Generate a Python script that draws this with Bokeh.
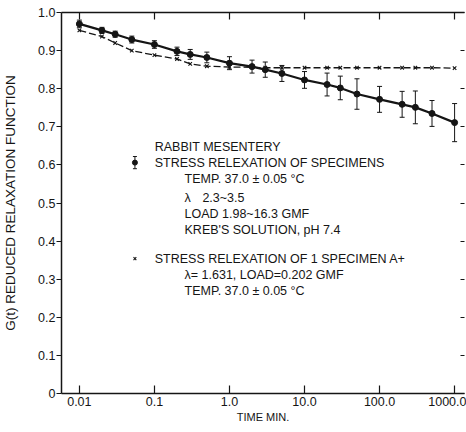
from bokeh.plotting import figure
from bokeh.models import (LogAxis, LinearAxis, FixedTicker, Range1d, Whisker,
                          TeeHead, ColumnDataSource, Label)
from bokeh.embed import file_html
from bokeh.resources import INLINE

# ---- data ----
times = [0.01, 0.02, 0.03, 0.05, 0.1, 0.2, 0.3, 0.5, 1, 2, 3, 5,
         10, 20, 30, 50, 100, 200, 300, 500, 1000]
g_specimens = [0.970, 0.953, 0.943, 0.929, 0.916, 0.898, 0.890, 0.882, 0.867,
               0.858, 0.850, 0.840, 0.823, 0.811, 0.802, 0.786, 0.772, 0.759,
               0.751, 0.735, 0.711]
g_err = [0.010, 0.008, 0.008, 0.009, 0.010, 0.011, 0.013, 0.014, 0.017,
         0.017, 0.020, 0.021, 0.022, 0.030, 0.031, 0.040, 0.034, 0.034,
         0.043, 0.034, 0.050]
g_single = [0.953, 0.937, 0.920, 0.900, 0.888, 0.878, 0.865, 0.859, 0.857,
            0.856, 0.855, 0.855, 0.855, 0.855, 0.855, 0.855, 0.855, 0.855,
            0.855, 0.855, 0.854]

x_ticks = [0.01, 0.1, 1, 10, 100, 1000]
x_tick_labels = ["0.01", "0.1", "1.0", "10.0", "100.0", "1000.0"]
y_ticks = [0, 0.1, 0.2, 0.3, 0.4, 0.5, 0.6, 0.7, 0.8, 0.9, 1.0]
y_tick_labels = ["0", "0.1", "0.2", "0.3", "0.4", "0.5", "0.6", "0.7", "0.8", "0.9", "1.0"]

INK = "#151515"
FONT = "Liberation Sans"

src = ColumnDataSource(dict(
    t=times, g=g_specimens, single=g_single,
    upper=[a + b for a, b in zip(g_specimens, g_err)],
    lower=[a - b for a, b in zip(g_specimens, g_err)],
))

p = figure(width=466, height=432, x_axis_type="log",
           x_range=Range1d(10 ** -2.238, 10 ** 3.132), y_range=Range1d(0, 1.0),
           output_backend="svg", toolbar_location=None,
           min_border_left=58, min_border_right=2, min_border_top=12,
           min_border_bottom=39)
p.outline_line_color = None
p.grid.visible = False
p.background_fill_color = "white"
p.border_fill_color = "white"

# bottom axis
xa = p.xaxis[0]
xa.ticker = FixedTicker(ticks=x_ticks, minor_ticks=[])
xa.major_label_overrides = dict(zip(x_ticks, x_tick_labels))
xa.major_tick_in = 8
xa.major_tick_out = 0
xa.major_label_standoff = 3
xa.axis_label = "TIME MIN."
xa.axis_label_standoff = 2
xa.axis_label_text_font_size = "11px"

# left axis
ya = p.yaxis[0]
ya.ticker = FixedTicker(ticks=y_ticks, minor_ticks=[])
ya.major_label_overrides = dict(zip(y_ticks, y_tick_labels))
ya.major_tick_in = 0
ya.major_tick_out = 5
ya.major_label_standoff = 1
ya.axis_label = "G(t) REDUCED RELAXATION FUNCTION"
ya.axis_label_standoff = 17
ya.axis_label_text_font_size = "13.5px"

for ax in (xa, ya):
    ax.axis_line_color = INK
    ax.axis_line_width = 1.5
    ax.major_tick_line_color = INK
    ax.major_tick_line_width = 1.2
    ax.minor_tick_line_color = None
    ax.major_label_text_font = FONT
    ax.major_label_text_font_size = "12.5px"
    ax.major_label_text_color = INK
    ax.axis_label_text_font = FONT
    ax.axis_label_text_font_style = "normal"
    ax.axis_label_text_color = INK

# top axis (ticks only)
top = LogAxis(ticker=FixedTicker(ticks=x_ticks, minor_ticks=[]),
              major_tick_in=7, major_tick_out=0, major_label_standoff=0,
              major_label_text_font_size="1px", major_label_text_color=None,
              axis_line_color=INK,
              axis_line_width=1.5, major_tick_line_color=INK,
              major_tick_line_width=1.2, minor_tick_line_color=None)
p.add_layout(top, "above")

# right axis (ticks only)
right = LinearAxis(ticker=FixedTicker(ticks=y_ticks, minor_ticks=[]),
                   major_tick_in=4, major_tick_out=0, major_label_standoff=0,
                   major_label_text_font_size="1px", major_label_text_color=None,
                   axis_line_color=None,
                   major_tick_line_color=INK, major_tick_line_width=1.2,
                   minor_tick_line_color=None)
p.add_layout(right, "right")

# single specimen: dashed line with x markers
p.line("t", "single", source=src, line_color=INK, line_width=1.3, line_dash="7 3")
p.scatter("t", "single", source=src, marker="x", size=5, line_color=INK, line_width=1.1)

# specimens: solid line, dots, error bars
p.line("t", "g", source=src, line_color=INK, line_width=2.2)
p.add_layout(Whisker(base="t", upper="upper", lower="lower", source=src,
                     line_color=INK, line_width=1,
                     upper_head=TeeHead(size=5, line_color=INK, line_width=1),
                     lower_head=TeeHead(size=5, line_color=INK, line_width=1)))
p.scatter("t", "g", source=src, marker="circle", size=6, fill_color=INK, line_color=INK)

# legend samples
leg_dot = ColumnDataSource(dict(x=[0.055], y=[0.606], up=[0.622], lo=[0.590]))
p.add_layout(Whisker(base="x", upper="up", lower="lo", source=leg_dot,
                     line_color=INK, line_width=1,
                     upper_head=TeeHead(size=4, line_color=INK, line_width=1),
                     lower_head=TeeHead(size=4, line_color=INK, line_width=1)))
p.scatter("x", "y", source=leg_dot, marker="circle", size=5, fill_color=INK, line_color=INK)
p.scatter(x=[0.055], y=[0.354], marker="x", size=4, line_color=INK, line_width=1.1)

# legend texts
notes = [
    (0.101, 0.648, "RABBIT MESENTERY"),
    (0.101, 0.606, "STRESS RELEXATION OF SPECIMENS"),
    (0.252, 0.564, "TEMP. 37.0 \u00b1 0.05 \u00b0C"),
    (0.252, 0.514, "\u03bb"),
    (0.436, 0.514, "2.3~3.5"),
    (0.252, 0.472, "LOAD 1.98~16.3 GMF"),
    (0.252, 0.428, "KREB'S SOLUTION, pH 7.4"),
    (0.101, 0.354, "STRESS RELEXATION OF 1 SPECIMEN A+"),
    (0.252, 0.310, "\u03bb= 1.631, LOAD=0.202 GMF"),
    (0.252, 0.270, "TEMP. 37.0 \u00b1 0.05 \u00b0C"),
]
for x, y, t in notes:
    p.add_layout(Label(x=x, y=y, text=t, text_font=FONT, text_font_size="12.5px",
                       text_color=INK, text_baseline="middle", text_align="left"))

open("out.html", "w").write(file_html(p, INLINE))
